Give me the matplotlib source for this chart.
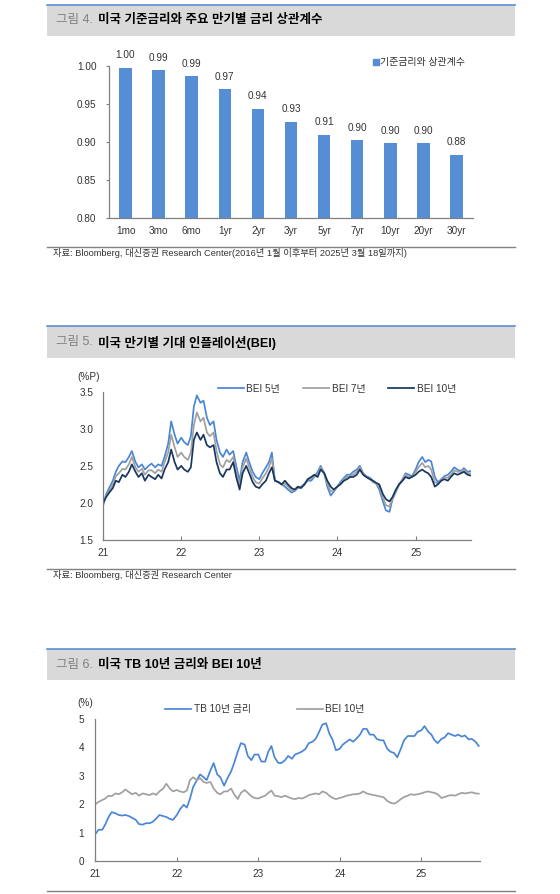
import matplotlib
matplotlib.use('Agg')
import matplotlib.pyplot as plt
from matplotlib.patches import Rectangle, Patch
from matplotlib.lines import Line2D
import matplotlib.dates as mdates
import pandas as pd

plt.rcParams['font.family'] = ['Liberation Sans', 'Noto Sans CJK KR']

W, H = 560, 894

# ---- figure 4: correlation with policy rate
tenors = ['1mo', '3mo', '6mo', '1yr', '2yr', '3yr', '5yr', '7yr', '10yr', '20yr', '30yr']
corr = [0.997, 0.994, 0.986, 0.969, 0.943, 0.926, 0.909, 0.902, 0.898, 0.898, 0.883]

# ---- figure 5/6: semi-monthly readings, 2021-01 .. 2025-09
dates = pd.date_range('2021-01-01', periods=114, freq='SMS')

bei5 = [1.97, 2.12, 2.22, 2.30, 2.42, 2.50, 2.56, 2.55, 2.62, 2.70, 2.55, 2.48, 2.52, 2.45, 2.50, 2.53, 2.48, 2.52, 2.50, 2.62, 2.80, 3.10, 2.92, 2.80,
        2.88, 2.82, 2.78, 2.90, 3.30, 3.45, 3.35, 3.38, 3.15, 3.05, 3.10, 2.85, 2.68, 2.62, 2.72, 2.65, 2.70, 2.50, 2.30, 2.55, 2.68, 2.55, 2.42, 2.35,
        2.32, 2.40, 2.48, 2.55, 2.68, 2.30, 2.28, 2.25, 2.22, 2.18, 2.14, 2.16, 2.20, 2.22, 2.26, 2.30, 2.30, 2.35, 2.42, 2.50, 2.40, 2.22, 2.10, 2.15,
        2.22, 2.28, 2.34, 2.38, 2.38, 2.42, 2.45, 2.50, 2.40, 2.36, 2.34, 2.30, 2.26, 2.18, 2.02, 1.90, 1.88, 2.05, 2.15, 2.24, 2.32, 2.40, 2.38, 2.36,
        2.45, 2.55, 2.62, 2.55, 2.58, 2.56, 2.35, 2.28, 2.32, 2.36, 2.38, 2.42, 2.48, 2.45, 2.43, 2.47, 2.42, 2.43]

bei7 = [1.98, 2.10, 2.18, 2.25, 2.36, 2.40, 2.46, 2.45, 2.52, 2.62, 2.48, 2.42, 2.46, 2.38, 2.44, 2.44, 2.40, 2.45, 2.42, 2.55, 2.68, 2.92, 2.75, 2.62,
        2.68, 2.62, 2.58, 2.68, 3.05, 3.22, 3.10, 3.15, 2.95, 2.90, 2.95, 2.70, 2.52, 2.48, 2.58, 2.55, 2.62, 2.42, 2.24, 2.48, 2.60, 2.48, 2.35, 2.28,
        2.26, 2.33, 2.40, 2.48, 2.60, 2.30, 2.28, 2.25, 2.26, 2.22, 2.17, 2.17, 2.21, 2.21, 2.26, 2.31, 2.33, 2.36, 2.38, 2.48, 2.40, 2.26, 2.16, 2.16,
        2.22, 2.26, 2.32, 2.35, 2.36, 2.38, 2.42, 2.48, 2.39, 2.35, 2.33, 2.28, 2.26, 2.22, 2.07, 1.97, 1.95, 2.06, 2.16, 2.24, 2.31, 2.38, 2.35, 2.35,
        2.42, 2.48, 2.54, 2.48, 2.50, 2.45, 2.28, 2.26, 2.31, 2.34, 2.34, 2.38, 2.44, 2.42, 2.42, 2.45, 2.40, 2.40]

bei10 = [2.00, 2.08, 2.15, 2.20, 2.30, 2.28, 2.38, 2.35, 2.42, 2.52, 2.42, 2.35, 2.40, 2.30, 2.38, 2.35, 2.32, 2.38, 2.33, 2.45, 2.55, 2.72, 2.55, 2.45,
         2.50, 2.45, 2.42, 2.48, 2.85, 2.95, 2.85, 2.92, 2.78, 2.75, 2.78, 2.55, 2.40, 2.35, 2.45, 2.45, 2.55, 2.35, 2.18, 2.40, 2.50, 2.40, 2.28, 2.22,
         2.20, 2.25, 2.30, 2.40, 2.48, 2.30, 2.28, 2.25, 2.30, 2.25, 2.20, 2.18, 2.22, 2.20, 2.25, 2.32, 2.35, 2.38, 2.35, 2.45, 2.40, 2.30, 2.22, 2.18,
         2.22, 2.25, 2.30, 2.32, 2.35, 2.35, 2.38, 2.45, 2.38, 2.35, 2.32, 2.30, 2.27, 2.25, 2.12, 2.05, 2.02, 2.08, 2.18, 2.25, 2.30, 2.35, 2.33, 2.35,
         2.38, 2.42, 2.45, 2.42, 2.40, 2.35, 2.22, 2.25, 2.30, 2.32, 2.30, 2.35, 2.40, 2.38, 2.40, 2.42, 2.38, 2.37]

tb10 = [0.95, 1.10, 1.10, 1.30, 1.55, 1.72, 1.68, 1.62, 1.60, 1.62, 1.58, 1.52, 1.45, 1.30, 1.28, 1.33, 1.33, 1.38, 1.50, 1.62, 1.58, 1.55, 1.48, 1.45,
        1.62, 1.82, 1.98, 1.88, 2.20, 2.60, 2.85, 3.05, 2.95, 2.85, 3.20, 3.45, 3.05, 2.95, 2.65, 2.90, 3.15, 3.45, 3.85, 4.15, 4.10, 3.70, 3.55, 3.75,
        3.75, 3.50, 3.50, 3.85, 4.05, 3.65, 3.45, 3.45, 3.55, 3.70, 3.60, 3.75, 3.80, 3.85, 3.95, 4.15, 4.20, 4.30, 4.55, 4.80, 4.85, 4.50, 4.25, 3.90,
        3.95, 4.10, 4.20, 4.28, 4.20, 4.30, 4.45, 4.65, 4.65, 4.45, 4.45, 4.30, 4.25, 4.25, 3.95, 3.85, 3.80, 3.65, 3.95, 4.25, 4.40, 4.40, 4.40, 4.55,
        4.60, 4.75, 4.55, 4.45, 4.25, 4.15, 4.30, 4.35, 4.50, 4.45, 4.40, 4.45, 4.38, 4.42, 4.28, 4.30, 4.20, 4.05]

BLUE = '#4a86d6'
BAR = '#558ed5'
NAVY = '#17375e'
GREY = '#a0a0a0'
AXC = '#808080'
TXT = '#333333'
FS = 7.2
LW = 1.25


def fx(px):
    return px / W


def fy(py):
    return 1 - py / H


def add_axes(fig, left, top, right, bottom):
    return fig.add_axes([fx(left), fy(bottom), (right - left) / W, (bottom - top) / H])


def header(fig, top, bottom, num, title):
    fig.add_artist(Rectangle((fx(47), fy(bottom)), (515 - 47) / W, (bottom - top) / H,
                             transform=fig.transFigure, facecolor='#d9d9d9', edgecolor='none'))
    fig.add_artist(Line2D([fx(47), fx(515)], [fy(top), fy(top)], transform=fig.transFigure,
                          color='#5b8fd6', lw=1.2))
    ymid = fy((top + bottom) / 2 + 0.5)
    fig.text(fx(56), ymid, '그림 %d.' % num, color='#808080', fontsize=9, va='center')
    fig.text(fx(97.5), ymid, title, color='black', fontsize=9, fontweight='bold', va='center')


def footer(fig, y, source=None):
    fig.add_artist(Line2D([fx(47), fx(515)], [fy(y), fy(y)], transform=fig.transFigure,
                          color=AXC, lw=1.0))
    if source:
        fig.text(fx(53), fy(y + 6), source, color=TXT, fontsize=6.7, va='center')


def style_axes(ax):
    for s in ['top', 'right']:
        ax.spines[s].set_visible(False)
    for s in ['left', 'bottom']:
        ax.spines[s].set_color(AXC)
        ax.spines[s].set_linewidth(0.9)
    ax.tick_params(labelsize=FS, labelcolor=TXT, color=AXC)


fig = plt.figure(figsize=(W / 100, H / 100), dpi=100)

# ================= 그림 4
header(fig, 4.5, 35.5, 4, '미국 기준금리와 주요 만기별 금리 상관계수')
ax1 = add_axes(fig, 109, 65.7, 473, 218)
style_axes(ax1)
bars = ax1.bar(range(len(tenors)), corr, width=0.38, color=BAR)
ax1.bar_label(bars, labels=['%.2f' % v for v in corr], padding=5.5, fontsize=FS, color=TXT)
ax1.set_ylim(0.80, 1.00)
ax1.set_xlim(-0.5, len(tenors) - 0.5)
ax1.set_yticks([0.80, 0.85, 0.90, 0.95, 1.00])
ax1.set_yticklabels(['%.2f' % v for v in [0.80, 0.85, 0.90, 0.95, 1.00]])
ax1.set_xticks(range(len(tenors)))
ax1.set_xticklabels(tenors)
ax1.tick_params(axis='y', length=2.5, direction='out', pad=6.5)
ax1.tick_params(axis='x', length=0, pad=6)
ax1.legend(handles=[Patch(color=BAR, label='기준금리와 상관계수')], loc='center left',
           bbox_to_anchor=(fx(373), fy(62.5)), bbox_transform=fig.transFigure, frameon=False,
           borderpad=0, borderaxespad=0, handlelength=0.55, handleheight=0.55, handletextpad=0.2,
           fontsize=FS, labelcolor=TXT)
footer(fig, 247, '자료: Bloomberg, 대신증권 Research Center(2016년 1월 이후부터 2025년 3월 18일까지)')

# ================= 그림 5
header(fig, 326.3, 357.7, 5, '미국 만기별 기대 인플레이션(BEI)')
ax2 = add_axes(fig, 103.2, 391.7, 471.4, 540)
style_axes(ax2)
ax2.plot(dates, bei5, color=BLUE, lw=LW, label='BEI 5년')
ax2.plot(dates, bei7, color=GREY, lw=LW, label='BEI 7년')
ax2.plot(dates, bei10, color=NAVY, lw=LW, label='BEI 10년')
ax2.set_ylim(1.5, 3.5)
ax2.set_yticks([1.5, 2.0, 2.5, 3.0, 3.5])
ax2.set_yticklabels(['%.1f' % v for v in [1.5, 2.0, 2.5, 3.0, 3.5]])
ax2.set_xlim(pd.Timestamp('2021-01-01'), pd.Timestamp('2025-09-19'))
ax2.xaxis.set_major_locator(mdates.YearLocator())
ax2.xaxis.set_major_formatter(mdates.DateFormatter('%y'))
ax2.tick_params(axis='x', length=3, direction='in', pad=6)
ax2.tick_params(axis='y', length=0, pad=7)
fig.text(fx(77), fy(377.5), '(%P)', fontsize=FS, color=TXT, va='center')
ax2.legend(loc='center left', ncol=3, bbox_to_anchor=(fx(218), fy(388.7)),
           bbox_transform=fig.transFigure, frameon=False, borderpad=0, borderaxespad=0,
           handlelength=2.6, handletextpad=0.25, columnspacing=2.3, fontsize=FS, labelcolor=TXT)
footer(fig, 569, '자료: Bloomberg, 대신증권 Research Center')

# ================= 그림 6
header(fig, 649.3, 680, 6, '미국 TB 10년 금리와 BEI 10년')
ax3 = add_axes(fig, 95.4, 719, 479.6, 861)
style_axes(ax3)
ax3.plot(dates, tb10, color=BLUE, lw=LW, label='TB 10년 금리')
ax3.plot(dates, bei10, color=GREY, lw=LW, label='BEI 10년')
ax3.set_ylim(0, 5)
ax3.set_yticks([0, 1, 2, 3, 4, 5])
ax3.set_xlim(pd.Timestamp('2021-01-01'), pd.Timestamp('2025-09-19'))
ax3.xaxis.set_major_locator(mdates.YearLocator())
ax3.xaxis.set_major_formatter(mdates.DateFormatter('%y'))
ax3.tick_params(axis='x', length=3, direction='in', pad=6)
ax3.tick_params(axis='y', length=0, pad=8)
fig.text(fx(77), fy(703), '(%)', fontsize=FS, color=TXT, va='center')
ax3.legend(loc='center left', ncol=2, bbox_to_anchor=(fx(165), fy(709)),
           bbox_transform=fig.transFigure, frameon=False, borderpad=0, borderaxespad=0,
           handlelength=2.6, handletextpad=0.25, columnspacing=4.6, fontsize=FS, labelcolor=TXT)
footer(fig, 891)

fig.savefig('out.png', dpi=100)
